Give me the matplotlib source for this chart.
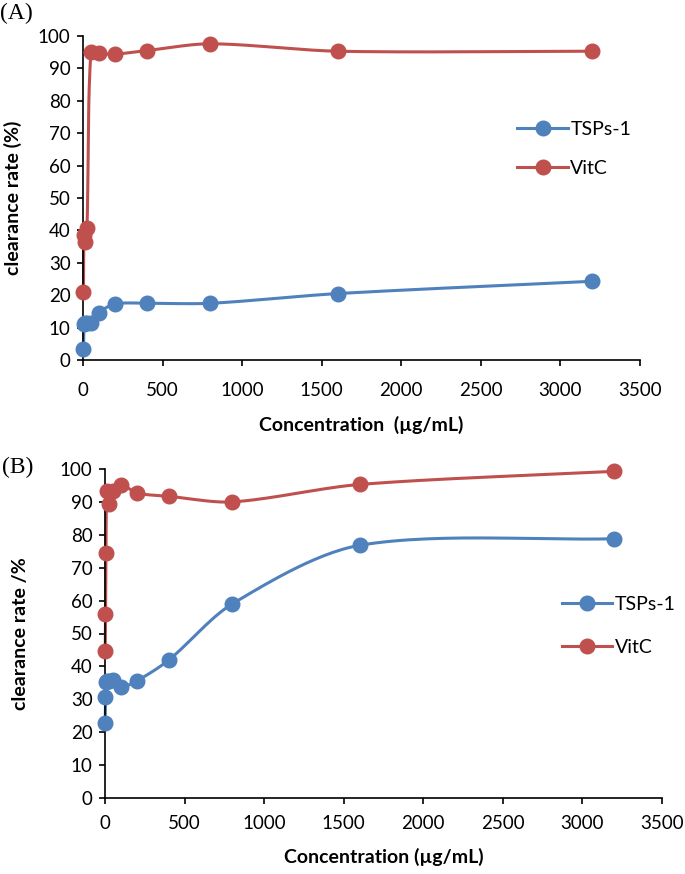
import numpy as np
import matplotlib
matplotlib.use("Agg")
import matplotlib.pyplot as plt
from matplotlib.lines import Line2D

plt.rcParams['font.family'] = ['Lato', 'DejaVu Sans']

# panel A data
concA = [3.125, 6.25, 12.5, 25, 50, 100, 200, 400, 800, 1600, 3200]
tspA = [3.4, 11.1, 11.3, 11.5, 11.5, 14.6, 17.3, 17.5, 17.5, 20.5, 24.3]
vitcA = [21.1, 38.6, 36.5, 40.6, 95.2, 94.6, 94.4, 95.5, 97.6, 95.3, 95.3]

# panel B data
concB = [1.5625, 3.125, 6.25, 12.5, 25, 50, 100, 200, 400, 800, 1600, 3200]
tspB = [22.9, 30.8, 35.4, 35.6, 35.7, 35.8, 33.8, 35.6, 41.9, 59.0, 76.8, 78.8]
vitcB = [44.6, 56.0, 74.4, 93.3, 89.4, 93.3, 95.2, 92.7, 91.7, 90.0, 95.3, 99.3]

xticks = np.arange(0, 3501, 500)
yticks = np.arange(0, 101, 10)

blue = '#4F81BD'
red = '#C0504D'


def smooth(ax, x, y, n=30, k=0.3):
    # smoothed line like excel: bezier through the points, in display space,
    # control arm scaled by the segment length so short steps don't overshoot
    P = ax.transData.transform(np.column_stack([x, y]))
    m = len(P)
    out = [P[0]]
    for i in range(m - 1):
        p0 = P[max(i - 1, 0)]
        p1 = P[i]
        p2 = P[i + 1]
        p3 = P[min(i + 2, m - 1)]
        L = np.hypot(*(p2 - p1))
        d1 = p2 - p0
        d1 = d1 / (np.hypot(*d1) + 1e-9)
        d2 = p3 - p1
        d2 = d2 / (np.hypot(*d2) + 1e-9)
        c1 = p1 + d1 * L * k
        c2 = p2 - d2 * L * k
        t = np.linspace(0, 1, n)[1:, None]
        seg = (1 - t) ** 3 * p1 + 3 * (1 - t) ** 2 * t * c1 + 3 * (1 - t) * t ** 2 * c2 + t ** 3 * p2
        out.extend(seg)
    out = ax.transData.inverted().transform(np.array(out))
    return out[:, 0], out[:, 1]


def panel(ax, conc, tsp, vitc, ylab, xlab, xpad, leg_anchor, spacing):
    ax.set_xlim(0, 3500)
    ax.set_ylim(0, 100)
    for vals, col in [(tsp, blue), (vitc, red)]:
        sx, sy = smooth(ax, conc, vals)
        ax.plot(sx, sy, color=col, lw=2.2, solid_capstyle='round', zorder=2, clip_on=False)
        ax.plot(conc, vals, 'o', color=col, ms=10.5, zorder=3, clip_on=False)
    ax.set_xticks(xticks)
    ax.set_yticks(yticks)
    ax.tick_params(direction='out', length=4, width=1.2, labelsize=13.5)
    ax.tick_params(axis='y', pad=5)
    ax.tick_params(axis='x', pad=xpad)
    for s in ['top', 'right']:
        ax.spines[s].set_visible(False)
    for s in ['left', 'bottom']:
        ax.spines[s].set_linewidth(1.2)
    ax.set_ylabel(ylab, fontsize=14, fontweight='bold')
    ax.set_xlabel(xlab, fontsize=14, fontweight='bold', labelpad=12)
    h = [Line2D([], [], color=blue, lw=2.2, marker='o', ms=10.5),
         Line2D([], [], color=red, lw=2.2, marker='o', ms=10.5)]
    ax.legend(h, ['TSPs-1', 'VitC'], loc='center left', bbox_to_anchor=leg_anchor,
              frameon=False, fontsize=14, handlelength=2.6, handletextpad=0.12,
              labelspacing=spacing, borderpad=0, borderaxespad=0)


fig = plt.figure(figsize=(6.85, 8.74), dpi=100)
axA = fig.add_axes([83 / 685, 1 - 360 / 874, 557 / 685, 324 / 874])
axB = fig.add_axes([105 / 685, 1 - 798 / 874, 557 / 685, 329 / 874])

panel(axA, concA, tspA, vitcA, 'clearance rate (%)', 'Concentration  (\u00b5g/mL)', 12, (0.78, 0.651), 1.15)
panel(axB, concB, tspB, vitcB, 'clearance rate /%', 'Concentration (\u00b5g/mL)', 8, (0.82, 0.523), 1.3)
axA.yaxis.set_label_coords(-0.126, 0.5)
axB.yaxis.set_label_coords(-0.152, 0.5)
axA.yaxis.label.set_va('center')
axB.yaxis.label.set_va('center')

fig.text(0.0, 1 - 13 / 874, '(A)', family='Liberation Serif', fontsize=17, va='center', ha='left')
fig.text(0.003, 1 - 467 / 874, '(B)', family='Liberation Serif', fontsize=17, va='center', ha='left')

fig.savefig('out.png', dpi=100)
